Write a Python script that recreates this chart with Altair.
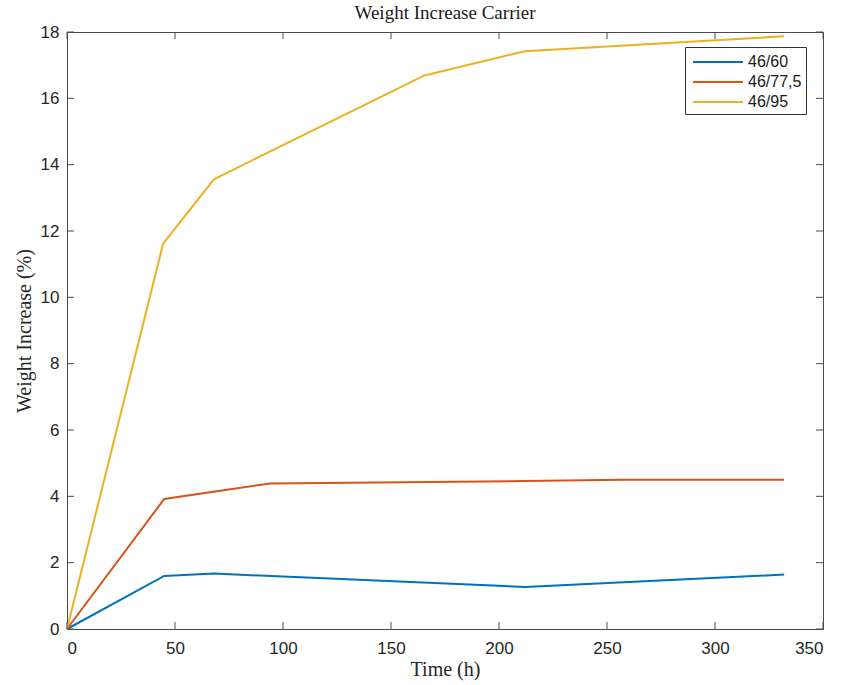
import altair as alt
import pandas as pd

# Measured weight increase per climate condition (time in hours, increase in %)
series_names = ["46/60", "46/77,5", "46/95"]

time_60 = [0, 45, 68, 212, 332]
gain_60 = [0, 1.60, 1.67, 1.27, 1.64]

time_775 = [0, 45, 94, 212, 257, 332]
gain_775 = [0, 3.92, 4.39, 4.46, 4.50, 4.50]

time_95 = [0, 44.5, 68, 165.5, 212, 332]
gain_95 = [0, 11.62, 13.56, 16.69, 17.42, 17.87]

x_ticks = [0, 50, 100, 150, 200, 250, 300, 350]
y_ticks = [0, 2, 4, 6, 8, 10, 12, 14, 16, 18]

colors = ["#0072BD", "#D95319", "#EDB120"]

rows = []
for name, ts, vs in zip(series_names, [time_60, time_775, time_95], [gain_60, gain_775, gain_95]):
    for i, (t, v) in enumerate(zip(ts, vs)):
        rows.append({"series": name, "time": t, "gain": v, "order": i})
df = pd.DataFrame(rows)

W, H = 756, 597
TICK = 7
AXIS_COLOR = "#4a4a4a"

x_scale = alt.Scale(domain=[0, 350], nice=False, zero=False)
y_scale = alt.Scale(domain=[0, 18], nice=False, zero=False)

lines = alt.Chart(df).mark_line(strokeWidth=2).encode(
    x=alt.X("time:Q", scale=x_scale,
            axis=alt.Axis(values=x_ticks, title="Time (h)", tickSize=0, labelPadding=11,
                          titlePadding=3, domain=False, grid=False)),
    y=alt.Y("gain:Q", scale=y_scale,
            axis=alt.Axis(values=y_ticks, title="Weight Increase (%)", tickSize=0, labelPadding=8,
                          titlePadding=6, domain=False, grid=False)),
    color=alt.Color("series:N", scale=alt.Scale(domain=series_names, range=colors),
                    legend=alt.Legend(title=None, orient="none", legendX=618, legendY=15,
                                      symbolType="M-2.5,0L2.5,0", symbolSize=400, symbolStrokeWidth=2,
                                      labelFontSize=16, labelFont="Liberation Sans", labelColor="#1a1a1a",
                                      strokeColor="#333333", fillColor="white", padding=4,
                                      rowPadding=1, labelOffset=19, symbolOffset=18)),
    order="order:Q",
)

# Inward-pointing ticks on all four sides of the box
xt = pd.DataFrame({"v": x_ticks})
yt = pd.DataFrame({"v": y_ticks})
tick_style = dict(color=AXIS_COLOR, strokeWidth=1)
x_bottom = alt.Chart(xt).mark_rule(**tick_style).encode(
    x=alt.X("v:Q", scale=x_scale), y=alt.value(H), y2=alt.value(H - TICK))
x_top = alt.Chart(xt).mark_rule(**tick_style).encode(
    x=alt.X("v:Q", scale=x_scale), y=alt.value(0), y2=alt.value(TICK))
y_left = alt.Chart(yt).mark_rule(**tick_style).encode(
    y=alt.Y("v:Q", scale=y_scale), x=alt.value(0), x2=alt.value(TICK))
y_right = alt.Chart(yt).mark_rule(**tick_style).encode(
    y=alt.Y("v:Q", scale=y_scale), x=alt.value(W), x2=alt.value(W - TICK))

chart = alt.layer(lines, x_bottom, x_top, y_left, y_right).properties(
    width=W, height=H,
    background="white",
    title=alt.TitleParams("Weight Increase Carrier", font="Liberation Serif", fontSize=19,
                          fontWeight="normal", color="#1a1a1a", offset=6, dy=6),
    autosize=alt.AutoSizeParams(type="none"),
    padding={"left": 67, "top": 32, "right": 19, "bottom": 56},
).configure_view(
    stroke=AXIS_COLOR, strokeWidth=1
).configure_axis(
    labelFont="Liberation Sans", labelFontSize=17, labelColor="#262626",
    titleFont="Liberation Serif", titleFontSize=20, titleFontWeight="normal", titleColor="#262626",
)

chart.save("out.html", embed_options={"renderer": "svg", "actions": False})
